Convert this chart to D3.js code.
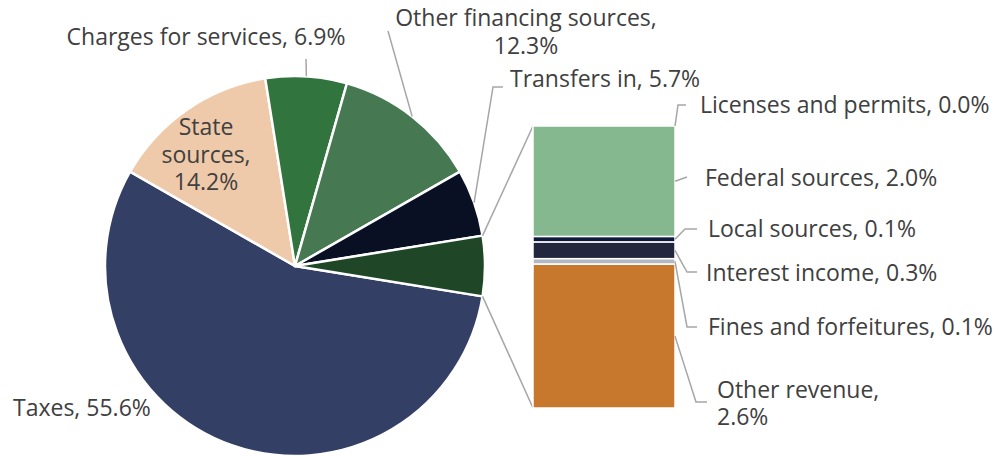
<!DOCTYPE html>
<html>
<head>
<meta charset="utf-8">
<script src="https://cdn.jsdelivr.net/npm/d3@7"></script>
<style>
  body { margin: 0; background: #fff; }
  text { font-family: "Open Sans", "Noto Sans", sans-serif; font-size: 23px; fill: #404040; }
</style>
</head>
<body>
<div id="chart"></div>
<script>
// pie slices (percent of total revenue)
var pieNames  = ["Taxes", "State sources", "Charges for services", "Other financing sources", "Transfers in", "Other"];
var pieValues = [55.6, 14.2, 6.9, 12.3, 5.7, 5.1];
var pieColors = ["#343f66", "#efcaaa", "#31743e", "#467852", "#0a1024", "#1f4727"];

// breakdown of the "Other" slice
var barNames  = ["Licenses and permits", "Federal sources", "Local sources", "Interest income", "Fines and forfeitures", "Other revenue"];
var barValues = [0.0, 2.0, 0.1, 0.3, 0.1, 2.6];
var barColors = ["#5b6b8c", "#86b88f", "#0c1a3c", "#22273f", "#b4b8c4", "#c8782c"];

var width = 1000, height = 456;
var cx = 295, cy = 266, r = 190;
var fmt = d3.format(".1f");

var svg = d3.select("#chart").append("svg")
	.attr("width", width)
	.attr("height", height);

/****************************** pie ***************************************/
var otherAngle = pieValues[5] / d3.sum(pieValues) * 2 * Math.PI;
var start = Math.PI / 2 + otherAngle / 2;

var pie = d3.pie().sort(null)
	.startAngle(start)
	.endAngle(start + 2 * Math.PI);
var arcs = pie(pieValues);

var arc = d3.arc().innerRadius(0).outerRadius(r);

var g = svg.append("g").attr("transform", "translate(" + cx + "," + cy + ")");

g.selectAll(".slice")
	.data(arcs)
	.enter().append("path")
	.attr("class", "slice")
	.attr("d", arc)
	.style("fill", function(d, i) { return pieColors[i]; })
	.style("stroke", "#fff")
	.style("stroke-width", 2.5)
	.style("stroke-linejoin", "round");

function onArc(angle, rad) {
	return [cx + rad * Math.sin(angle), cy - rad * Math.cos(angle)];
}

/****************************** bar of pie ********************************/
var barX = 533, barW = 142;
var y = d3.scaleLinear().domain([0, d3.sum(barValues)]).range([126, 408]);
var cum = 0;
var segs = barValues.map(function(v, i) {
	var s = { name: barNames[i], value: v, y0: cum, y1: cum + v, i: i };
	cum += v;
	return s;
});

// connectors from the "Other" slice to the bar
var otherArc = arcs[5];
var topP = onArc(otherArc.startAngle, r), botP = onArc(otherArc.endAngle, r);
var lineCol = "#a6a6a6";
svg.append("line")
	.attr("x1", topP[0]).attr("y1", topP[1])
	.attr("x2", barX).attr("y2", y(0))
	.style("stroke", lineCol).style("stroke-width", 1.5);
svg.append("line")
	.attr("x1", botP[0]).attr("y1", botP[1])
	.attr("x2", barX).attr("y2", y(cum))
	.style("stroke", lineCol).style("stroke-width", 1.5);

svg.selectAll(".seg")
	.data(segs.filter(function(d) { return d.value > 0; }))
	.enter().append("rect")
	.attr("class", "seg")
	.attr("x", barX)
	.attr("width", barW)
	.attr("y", function(d) { return y(d.y0); })
	.attr("height", function(d) { return y(d.y1) - y(d.y0); })
	.style("fill", function(d) { return barColors[d.i]; })
	.style("stroke", "#fff")
	.style("stroke-width", 1.5);

/****************************** labels ************************************/
// layout: text position and leader elbow for each label
var pieLayout = [
	{ x: 13,  y: [416], anchor: "start", lines: ["Taxes, " + fmt(pieValues[0]) + "%"] },
	{ x: 206, y: [135, 162.5, 190], anchor: "middle", lines: ["State", "sources,", fmt(pieValues[1]) + "%"] },
	{ x: 206, y: [45], anchor: "middle", lines: [pieNames[2] + ", " + fmt(pieValues[2]) + "%"], leader: [[306, 59]] },
	{ x: 526, y: [26, 53.5], anchor: "middle", lines: [pieNames[3] + ",", fmt(pieValues[3]) + "%"], leader: [[388, 31]] },
	{ x: 510, y: [87], anchor: "start", lines: [pieNames[4] + ", " + fmt(pieValues[4]) + "%"], leader: [[493, 87], [503, 87]] }
];

var barLayout = [
	{ x: 700, y: [113], lines: [barNames[0] + ", " + fmt(barValues[0]) + "%"], leader: [[678, 105], [686, 105]] },
	{ x: 705, y: [186], lines: [barNames[1] + ", " + fmt(barValues[1]) + "%"], leader: [[687, 177]] },
	{ x: 708, y: [237], lines: [barNames[2] + ", " + fmt(barValues[2]) + "%"], leader: [[685, 229], [697, 229]] },
	{ x: 706, y: [281], lines: [barNames[3] + ", " + fmt(barValues[3]) + "%"], leader: [[687, 272], [697, 272]] },
	{ x: 708, y: [335], lines: [barNames[4] + ", " + fmt(barValues[4]) + "%"], leader: [[687, 327], [697, 327]] },
	{ x: 717, y: [398, 425], lines: [barNames[5] + ",", fmt(barValues[5]) + "%"], leader: [[696, 402], [707, 402]] }
];

var leader = d3.line();

pieLayout.forEach(function(l, i) {
	if (l.leader) {
		var a = arcs[i];
		var p0 = onArc((a.startAngle + a.endAngle) / 2, r);
		svg.append("path")
			.attr("d", leader([p0].concat(l.leader)))
			.style("fill", "none").style("stroke", lineCol).style("stroke-width", 1.5);
	}
	var t = svg.append("text").attr("text-anchor", l.anchor);
	l.lines.forEach(function(s, k) {
		t.append("tspan").attr("x", l.x).attr("y", l.y[k]).text(s);
	});
});

barLayout.forEach(function(l, i) {
	var d = segs[i];
	var p0 = [barX + barW, y((d.y0 + d.y1) / 2)];
	svg.append("path")
		.attr("d", leader([p0].concat(l.leader)))
		.style("fill", "none").style("stroke", lineCol).style("stroke-width", 1.5);
	var t = svg.append("text").attr("text-anchor", "start");
	l.lines.forEach(function(s, k) {
		t.append("tspan").attr("x", l.x).attr("y", l.y[k]).text(s);
	});
});
</script>
</body>
</html>
